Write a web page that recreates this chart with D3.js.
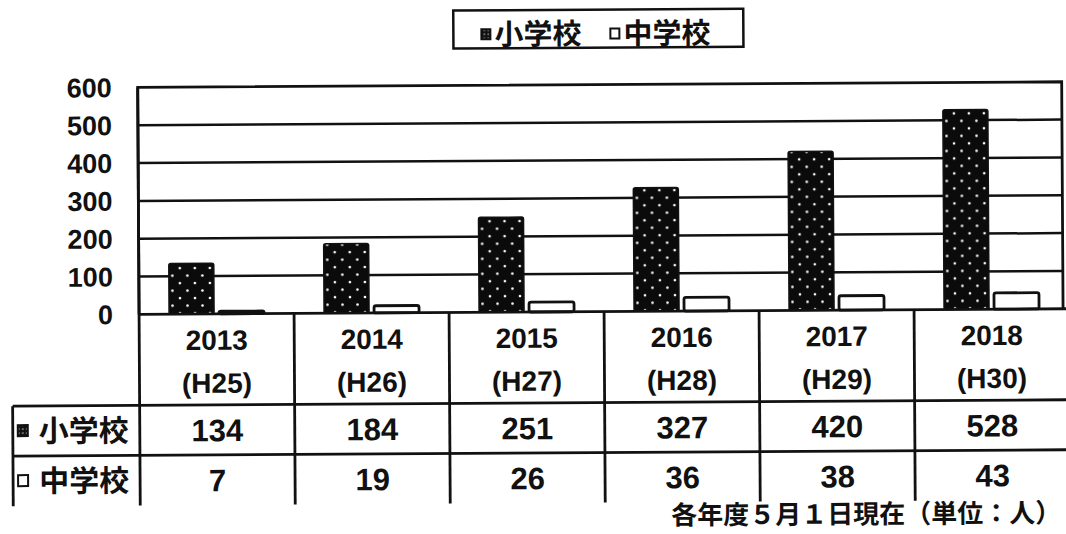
<!DOCTYPE html>
<html>
<head>
<meta charset="utf-8">
<script src="https://cdn.jsdelivr.net/npm/d3@7"></script>
<style>
  body { margin: 0; background: #fff; }
  svg { display: block; }
  .num { font-family: "Liberation Sans", Arial, sans-serif; font-weight: bold; fill: #111; }
  .jp { font-family: "Noto Sans CJK JP", sans-serif; font-weight: bold; fill: #111; }
</style>
</head>
<body>
<svg id="chart"></svg>
<script>
// data
const years = ['2013', '2014', '2015', '2016', '2017', '2018'];
const eras = ['(H25)', '(H26)', '(H27)', '(H28)', '(H29)', '(H30)'];
const seriesNames = ['小学校', '中学校'];
const elementary = [134, 184, 251, 327, 420, 528];
const juniorHigh = [7, 19, 26, 36, 38, 43];
const yTicks = [0, 100, 200, 300, 400, 500, 600];
const note = '各年度５月１日現在（単位：人）';

const [w, h] = [1066, 534];
const plot = {left: 139, top: 85, right: 1063, bottom: 312};
const rows = {years: 403, first: 453, end: 503, headLeft: 12};

const svg = d3.select('#chart').attr('width', w).attr('height', h);

// dotted fill for elementary bars
const defs = svg.append('defs');
const pat = defs.append('pattern').attr('id', 'dots').attr('patternUnits', 'userSpaceOnUse')
  .attr('width', 15).attr('height', 15);
pat.append('rect').attr('width', 15).attr('height', 15).attr('fill', '#0b0b0b');
pat.append('circle').attr('cx', 3.5).attr('cy', 3.5).attr('r', 1.3).attr('fill', '#fff');
pat.append('circle').attr('cx', 11).attr('cy', 11).attr('r', 1.3).attr('fill', '#fff');
const patS = defs.append('pattern').attr('id', 'dotsSmall').attr('patternUnits', 'userSpaceOnUse')
  .attr('width', 4).attr('height', 4);
patS.append('rect').attr('width', 4).attr('height', 4).attr('fill', '#111');
patS.append('circle').attr('cx', 2).attr('cy', 2).attr('r', 0.7).attr('fill', '#fff');

// the scan is a little tilted
const g = svg.append('g').attr('transform', 'rotate(-0.35 533 300)');

// scales
const x0 = d3.scaleBand().domain(years).range([plot.left, plot.left + 6 * 155]).paddingInner(0);
const x1 = d3.scaleBand().domain(seriesNames).range([30, x0.bandwidth() - 30]).paddingInner(0.1);
const y = d3.scaleLinear().domain([0, 600]).range([plot.bottom, plot.top]);

// gridlines
g.append('g').selectAll('line').data(yTicks.slice(1, -1)).enter().append('line')
  .attr('x1', plot.left).attr('x2', plot.right)
  .attr('y1', d => y(d)).attr('y2', d => y(d))
  .attr('stroke', '#111').attr('stroke-width', 2.5);

// plot frame
g.append('path')
  .attr('d', `M${plot.left},${plot.bottom}V${plot.top}H${plot.right}V${plot.bottom}`)
  .attr('fill', 'none').attr('stroke', '#111').attr('stroke-width', 2.8);

// y axis labels
const yAxis = d3.axisLeft(y).tickValues(yTicks).tickSize(0).tickPadding(26);
const ya = g.append('g').attr('transform', `translate(${plot.left},0)`).call(yAxis);
ya.select('.domain').remove();
ya.selectAll('text').attr('class', 'num').attr('font-size', 27).attr('dy', '0.34em');

// bars
const groups = g.selectAll('.grp').data(years).enter().append('g')
  .attr('transform', d => `translate(${x0(d)},0)`);
groups.append('rect')
  .attr('x', x1('小学校')).attr('width', x1.bandwidth())
  .attr('y', (d, i) => y(elementary[i])).attr('height', (d, i) => y(0) - y(elementary[i]))
  .attr('rx', 2).attr('fill', 'url(#dots)').attr('stroke', '#111').attr('stroke-width', 1.5);
groups.append('rect')
  .attr('x', x1('中学校')).attr('width', x1.bandwidth())
  .attr('y', (d, i) => y(juniorHigh[i])).attr('height', (d, i) => y(0) - y(juniorHigh[i]))
  .attr('rx', 2).attr('fill', '#fff').attr('stroke', '#111').attr('stroke-width', 2.8);

// zero line
g.append('line').attr('x1', plot.left).attr('x2', w + 10)
  .attr('y1', y(0)).attr('y2', y(0)).attr('stroke', '#111').attr('stroke-width', 2.8);

// data table
const colEdges = years.map(d => x0(d)).concat([x0.range()[1]]);
g.append('g').selectAll('line').data(colEdges).enter().append('line')
  .attr('x1', d => d).attr('x2', d => d)
  .attr('y1', (d, i) => i === 0 ? plot.top : plot.bottom).attr('y2', rows.end)
  .attr('stroke', '#111').attr('stroke-width', 2.8);
[rows.years, rows.first].forEach(yy => {
  g.append('line').attr('x1', rows.headLeft).attr('x2', w + 10).attr('y1', yy).attr('y2', yy)
    .attr('stroke', '#111').attr('stroke-width', 2.8);
});
g.append('line').attr('x1', rows.headLeft).attr('x2', rows.headLeft)
  .attr('y1', rows.years).attr('y2', rows.end).attr('stroke', '#111').attr('stroke-width', 2.8);

const cx = d => x0(d) + x0.bandwidth() / 2;
g.selectAll('.yr').data(years).enter().append('text').attr('class', 'num')
  .attr('x', d => cx(d)).attr('y', 338).attr('dy', '0.35em')
  .attr('text-anchor', 'middle').attr('font-size', 28).text(d => d);
g.selectAll('.era').data(eras).enter().append('text').attr('class', 'num')
  .attr('x', (d, i) => cx(years[i])).attr('y', 381).attr('dy', '0.35em')
  .attr('text-anchor', 'middle').attr('font-size', 28).text(d => d);
[elementary, juniorHigh].forEach((vals, r) => {
  g.selectAll('.v' + r).data(vals).enter().append('text').attr('class', 'num')
    .attr('x', (d, i) => cx(years[i])).attr('y', r === 0 ? 428 : 478).attr('dy', '0.36em')
    .attr('text-anchor', 'middle').attr('font-size', 31).text(d => d);
});

// row headers
seriesNames.forEach((name, r) => {
  const yy = r === 0 ? 428 : 478;
  g.append('rect').attr('x', 17).attr('y', yy - 6).attr('width', 10).attr('height', 11)
    .attr('fill', r === 0 ? 'url(#dotsSmall)' : '#fff').attr('stroke', '#111').attr('stroke-width', 2);
  g.append('text').attr('class', 'jp').attr('x', 38).attr('y', yy).attr('dy', '0.36em')
    .attr('font-size', 30).text(name);
});

// legend
const lg = g.append('g');
lg.append('rect').attr('x', 455).attr('y', 10).attr('width', 290).attr('height', 38)
  .attr('fill', '#fff').attr('stroke', '#111').attr('stroke-width', 2.5);
const legendX = [483, 612];
seriesNames.forEach((name, i) => {
  lg.append('rect').attr('x', legendX[i]).attr('y', 29).attr('width', 9).attr('height', 10)
    .attr('fill', i === 0 ? 'url(#dotsSmall)' : '#fff').attr('stroke', '#111').attr('stroke-width', 2);
  lg.append('text').attr('class', 'jp').attr('x', legendX[i] + 13).attr('y', 34).attr('dy', '0.36em')
    .attr('font-size', 29).text(name);
});

// footnote
g.append('text').attr('class', 'jp').attr('x', 1060).attr('y', 516).attr('dy', '0.36em')
  .attr('text-anchor', 'end').attr('font-size', 26).text(note);
</script>
</body>
</html>
